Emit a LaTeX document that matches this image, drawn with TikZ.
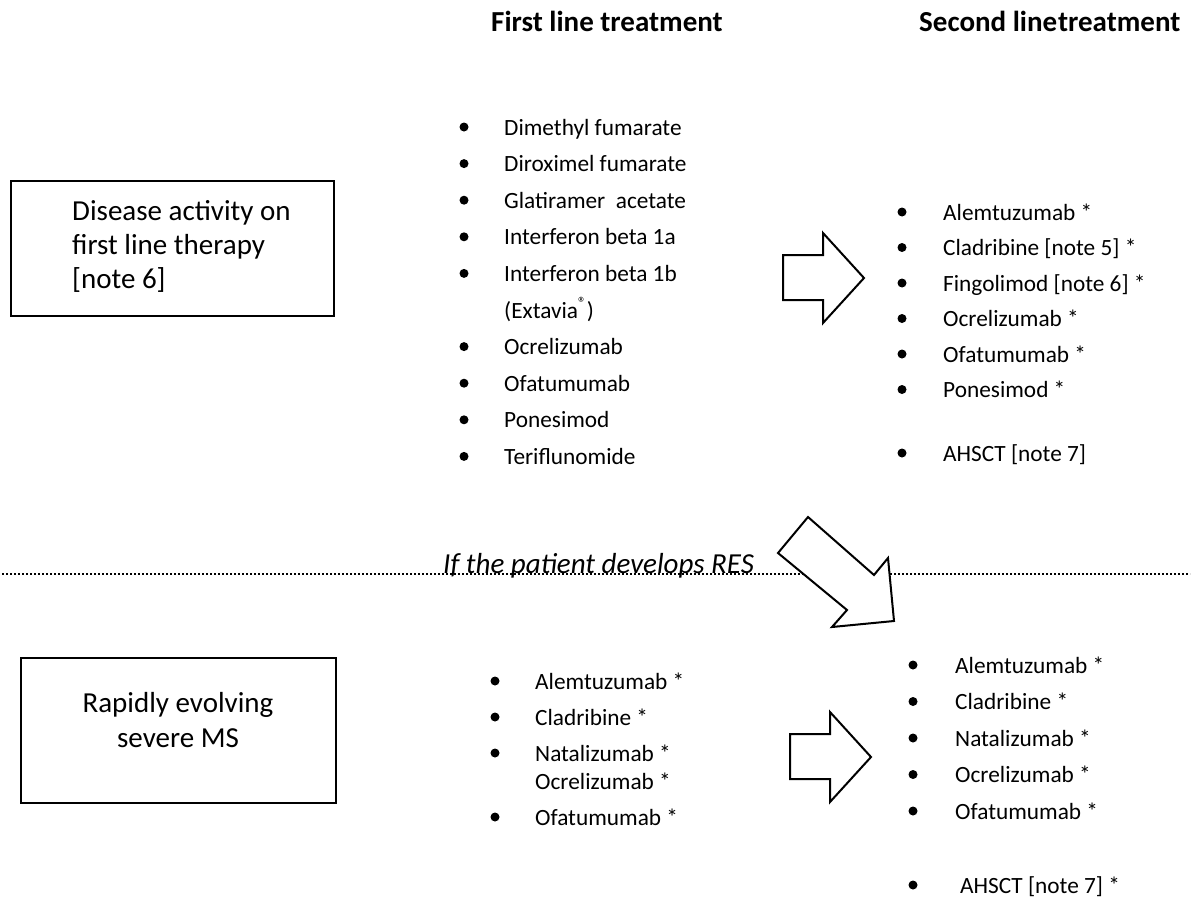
\documentclass[tikz,border=0pt]{standalone}
\usepackage{fontspec}
\setmainfont{Carlito}
\newcommand{\bitem}[5]{%
  \node[bul] (#1b) at (#2,#4) {};
  \node[item] (#1) at (#3,#4+8) {#5};}
\begin{document}
\begin{tikzpicture}[x=1pt,y=-1pt,
  head/.style={font=\fontsize{29}{34}\selectfont\bfseries, anchor=base west, inner sep=0pt},
  boxtext/.style={font=\fontsize{29}{34}\selectfont, inner sep=0pt},
  item/.style={font=\fontsize{23.3}{28}\selectfont, anchor=base west, inner sep=0pt},
  bul/.style={circle, fill=black, inner sep=0pt, minimum size=9pt},
  frame/.style={draw=black, line width=2pt, anchor=north west, inner sep=0pt},
  blockarrow/.style={draw=black, line width=2pt, fill=white, line join=miter},
  dotline/.style={line width=2pt, dash pattern=on 2pt off 2pt}]
\useasboundingbox[fill=white] (0,0) rectangle (1193,897);

% headers
\node[head] (h1) at (491,31) {First line treatment};
\node[head] (h2) at (919,31) {Second line{\kern0.03em}treatment};

% left boxes
\node[frame, minimum width=323pt, minimum height=135pt] (b1) at (10,180) {};
\node[boxtext, anchor=base west] (t1a) at (72,220) {Disease activity on};
\node[boxtext, anchor=base west] (t1b) at (72,254) {first line therapy};
\node[boxtext, anchor=base west] (t1c) at (72,288) {[note 6]};

\node[frame, minimum width=315pt, minimum height=145pt] (b2) at (20,657) {};
\node[boxtext, anchor=base] (t2a) at (178,712) {Rapidly evolving};
\node[boxtext, anchor=base] (t2b) at (178,747) {severe MS};

% top first line list
\bitem{a1}{464}{504}{127}{Dimethyl fumarate}
\bitem{a2}{464}{504}{163.6}{Diroximel fumarate}
\bitem{a3}{464}{504}{200.2}{Glatiramer\ \ acetate}
\bitem{a4}{464}{504}{236.8}{Interferon beta 1a}
\bitem{a5}{464}{504}{273.4}{Interferon beta 1b}
\node[item] (a5x) at (504,310+8) {(Extavia\textsuperscript{®})};
\bitem{a6}{464}{504}{346.6}{Ocrelizumab}
\bitem{a7}{464}{504}{383.2}{Ofatumumab}
\bitem{a8}{464}{504}{419.8}{Ponesimod}
\bitem{a9}{464}{504}{456.4}{Teriflunomide}

% top second line list
\bitem{c1}{902}{943}{212}{Alemtuzumab *}
\bitem{c2}{902}{943}{247.5}{Cladribine [note 5] *}
\bitem{c3}{902}{943}{283}{Fingolimod [note 6] *}
\bitem{c4}{902}{943}{318.5}{Ocrelizumab *}
\bitem{c5}{902}{943}{354}{Ofatumumab *}
\bitem{c6}{902}{943}{389.5}{Ponesimod *}
\bitem{c7}{902}{943}{453}{AHSCT [note 7]}

% bottom first line list
\bitem{d1}{495}{535}{681}{Alemtuzumab *}
\bitem{d2}{495}{535}{717}{Cladribine *}
\bitem{d3}{495}{535}{753}{Natalizumab *}
\node[item] (d3x) at (535,781+8) {Ocrelizumab *};
\bitem{d4}{495}{535}{817}{Ofatumumab *}

% bottom second line list
\bitem{e1}{913}{955}{665}{Alemtuzumab *}
\bitem{e2}{913}{955}{701.5}{Cladribine *}
\bitem{e3}{913}{955}{738}{Natalizumab *}
\bitem{e4}{913}{955}{774.5}{Ocrelizumab *}
\bitem{e5}{913}{955}{811}{Ofatumumab *}
\bitem{e6}{913}{960}{885}{AHSCT [note 7] *}

% dotted separator and label
\coordinate (dl) at (2,574);
\coordinate (dr) at (1190,574);
\draw[dotline] (dl) -- (dr);
\node[font=\fontsize{29}{34}\selectfont\itshape, anchor=base west, inner sep=0pt] (res) at (443,573) {If the patient develops RES};

% block arrows
\draw[blockarrow] (783,255) -- (823,255) -- (823,233) -- (864,278) -- (823,323) -- (823,300) -- (783,300) -- cycle;
\draw[blockarrow] (790,734) -- (830,734) -- (830,712) -- (871,757) -- (830,802) -- (830,779) -- (790,779) -- cycle;
\draw[blockarrow] (808,517) -- (874,575) -- (888,558) -- (894,621) -- (832,627) -- (847,610) -- (778,553) -- cycle;
\end{tikzpicture}
\end{document}
